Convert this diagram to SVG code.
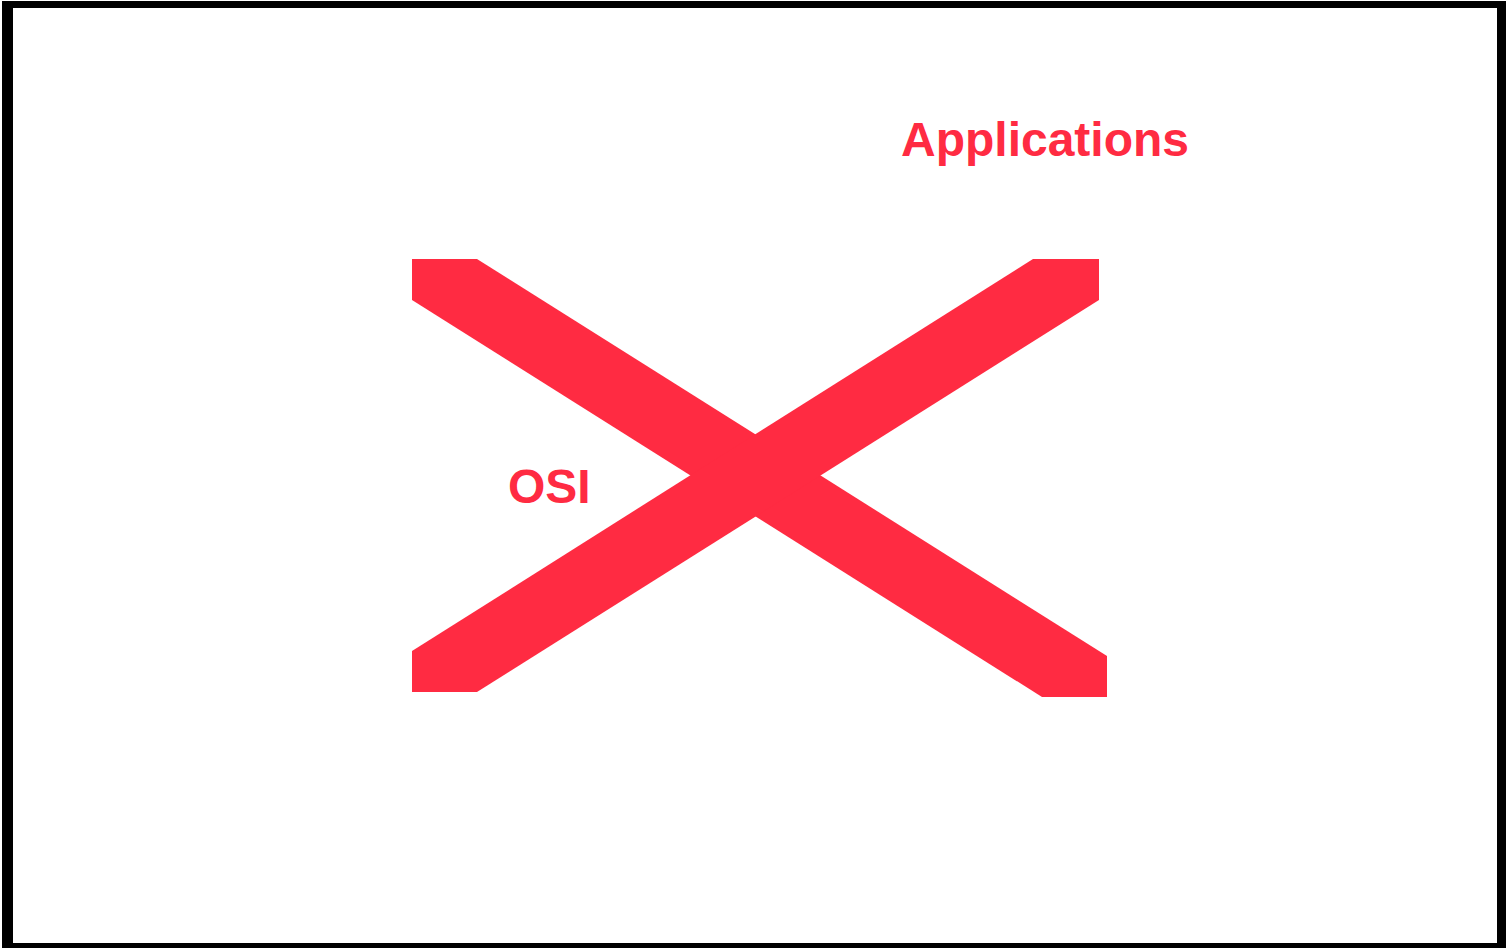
<svg xmlns="http://www.w3.org/2000/svg" width="1506" height="948" viewBox="0 0 1506 948">
  <style>
    .frame { fill: #000000; fill-rule: evenodd; }
    .bar { fill: #FF2B42; }
    .label { fill: #FF2B42; font-family: "Liberation Sans", Arial, Helvetica, sans-serif; font-weight: bold; font-size: 48px; }
  </style>
  <rect width="1506" height="948" fill="#ffffff"/>
  <g id="frame">
    <path class="frame" d="M2,1 H1506 V948 H2 Z M13,8 V943 H1497 V8 Z"/>
  </g>
  <g id="cross">
    <polygon class="bar" points="412,259 477,259 1107,656 1107,697 1042,697 412,300"/>
    <polygon class="bar" points="1099,259 1033,259 412,651 412,692 477,692 1099,300"/>
  </g>
  <g id="label-applications">
    <text class="label" x="901" y="156">Applications</text>
  </g>
  <g id="label-osi">
    <text class="label" x="508" y="503">OSI</text>
  </g>
</svg>
